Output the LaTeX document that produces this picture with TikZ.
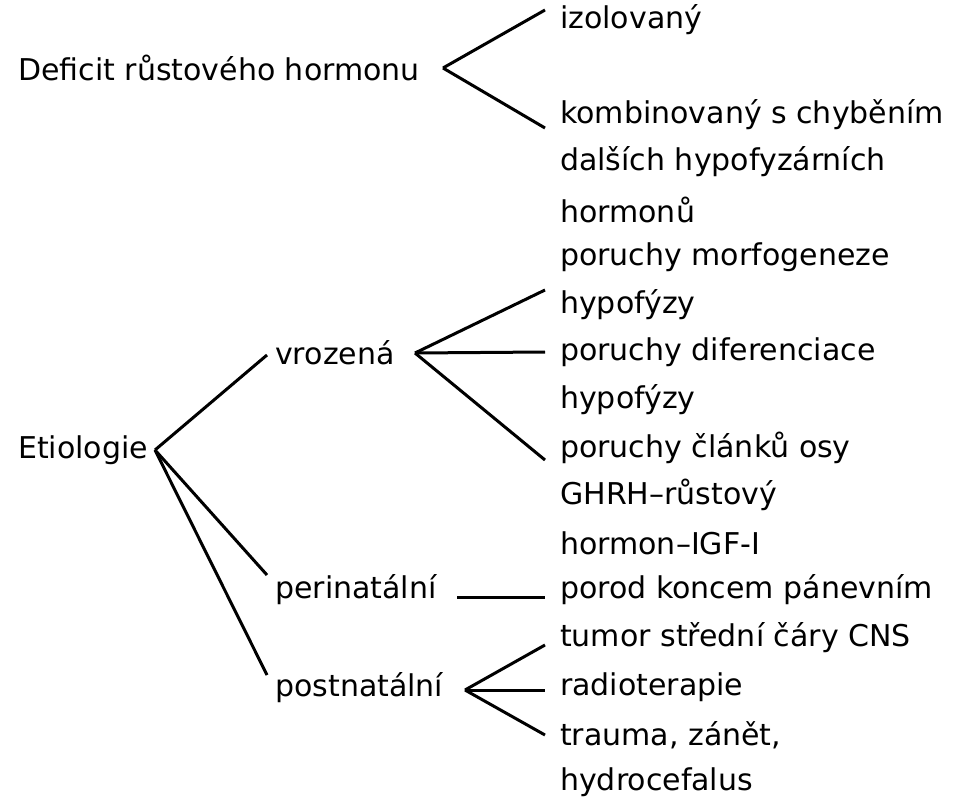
\documentclass[tikz,border=0pt]{standalone}
\usepackage{fontspec}
\setmainfont{DejaVu Sans}
\usetikzlibrary{positioning, calc}

\begin{document}
\begin{tikzpicture} [x=1pt, y=-1pt, every node/.style={anchor=west, inner sep=0pt, font=\fontsize{30}{34}\selectfont}, branch/.style={line width=3pt}]
\useasboundingbox (0,0) rectangle (964,800);
% left column
\node (deficit) at (18,68) {Deficit růstového hormonu};
\node (etio) at (18,450) {Etiologie};
% middle column
\node (vroz) at (275,353) {vrozená};
\node (peri) at (275,590) {perinatální};
\node (post) at (275,688) {postnatální};
% right column
\node (izol) at (560,20) {izolovaný};
\node (komb) at (560,115) {kombinovaný s chyběním};
\node (komb2) at (560,162) {dalších hypofyzárních};
\node (komb3) at (560,210) {hormonů};
\node (morf) at (560,257) {poruchy morfogeneze};
\node (morf2) at (560,305) {hypofýzy};
\node (dif) at (560,352) {poruchy diferenciace};
\node (dif2) at (560,400) {hypofýzy};
\node (osa) at (560,448) {poruchy článků osy};
\node (osa2) at (560,495) {GHRH–růstový};
\node (osa3) at (560,543) {hormon–IGF-I};
\node (porod) at (560,590) {porod koncem pánevním};
\node (tumor) at (560,638) {tumor střední čáry CNS};
\node (radio) at (560,687) {radioterapie};
\node (trauma) at (560,735) {trauma, zánět,};
\node (hydro) at (560,782) {hydrocefalus};

% fork points
\coordinate (fd) at (443,68);
\coordinate (fe) at (155,450);
\coordinate (fv) at (415,353);
\coordinate (fp) at (457,597);
\coordinate (fq) at (465,690);

\draw[branch] (fd) -- ($(izol.west |- 0,10)+(-15,0)$);
\draw[branch] (fd) -- ($(komb.west |- 0,128)+(-15,0)$);
\draw[branch] (fe) -- ($(vroz.west |- 0,355)+(-8,0)$);
\draw[branch] (fe) -- ($(peri.west |- 0,575)+(-8,0)$);
\draw[branch] (fe) -- ($(post.west |- 0,675)+(-8,0)$);
\draw[branch] (fv) -- ($(morf2.west |- 0,290)+(-15,0)$);
\draw[branch] (fv) -- ($(dif.west)+(-15,0)$);
\draw[branch] (fv) -- ($(osa.west |- 0,460)+(-15,0)$);
\draw[branch] (fp) -- ($(porod.west |- 0,597)+(-15,0)$);
\draw[branch] (fq) -- ($(tumor.west |- 0,645)+(-15,0)$);
\draw[branch] (fq) -- ($(radio.west |- 0,690)+(-15,0)$);
\draw[branch] (fq) -- ($(trauma.west |- 0,735)+(-15,0)$);
\end{tikzpicture}
\end{document}
